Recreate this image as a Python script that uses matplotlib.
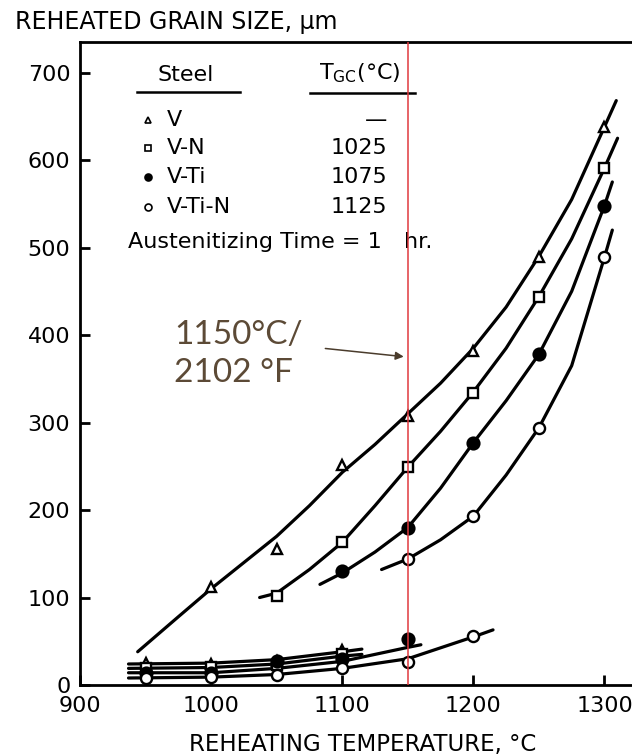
import numpy as np
import matplotlib.pyplot as plt

plt.rcParams['font.family'] = ['DejaVu Sans']

# measured points (upper branch, coarse grains)
t_v = [1000, 1050, 1100, 1150, 1200, 1250, 1300]
g_v = [112, 156, 251, 308, 382, 489, 638]
t_vn = [1050, 1100, 1150, 1200, 1250, 1300]
g_vn = [102, 163, 249, 334, 444, 591]
t_vti = [1100, 1150, 1200, 1250, 1300]
g_vti = [130, 180, 277, 378, 548]
t_vtin = [1150, 1200, 1250, 1300]
g_vtin = [144, 193, 294, 489]

# fine grain points (below coarsening temperature)
lt_v = [950, 1000, 1050, 1100]
lg_v = [25, 24, 27, 40]
lt_vn = [950, 1000, 1050, 1100]
lg_vn = [20, 21, 23, 36]
lt_vti = [950, 1000, 1050, 1100, 1150]
lg_vti = [14, 14, 27, 30, 53]
lt_vtin = [950, 1000, 1050, 1100, 1150, 1200]
lg_vtin = [8, 9, 11, 19, 26, 56]

# hand drawn trend curves
ct_v = [944, 975, 1000, 1025, 1050, 1075, 1100, 1125, 1150, 1175, 1200, 1225, 1250, 1275, 1300, 1309]
cg_v = [38, 78, 110, 140, 170, 205, 243, 275, 310, 345, 385, 432, 490, 555, 638, 668]
ct_vn = [1037, 1050, 1075, 1100, 1125, 1150, 1175, 1200, 1225, 1250, 1275, 1300, 1310]
cg_vn = [100, 105, 132, 163, 205, 249, 290, 335, 385, 444, 510, 591, 625]
ct_vti = [1083, 1100, 1125, 1150, 1175, 1200, 1225, 1250, 1275, 1300, 1306]
cg_vti = [115, 128, 152, 180, 225, 277, 325, 378, 450, 548, 575]
ct_vtin = [1130, 1150, 1175, 1200, 1225, 1250, 1275, 1300, 1306]
cg_vtin = [132, 144, 166, 193, 240, 294, 365, 489, 520]

lct_v = [937, 1000, 1050, 1100, 1115]
lcg_v = [24, 25, 29, 38, 41]
lct_vn = [937, 1000, 1050, 1100, 1115]
lcg_vn = [19, 20, 24, 33, 35]
lct_vti = [937, 1000, 1050, 1100, 1150, 1160]
lcg_vti = [14, 14, 19, 27, 43, 46]
lct_vtin = [937, 1000, 1050, 1100, 1150, 1200, 1215]
lcg_vtin = [8, 9, 12, 19, 30, 55, 63]

fig = plt.figure(figsize=(6.32, 7.56), dpi=100)
ax = fig.add_axes([80/632, 1-685/756, 1-80/632, 643/756])

for ct, cg in [(ct_v, cg_v), (ct_vn, cg_vn), (ct_vti, cg_vti), (ct_vtin, cg_vtin),
               (lct_v, lcg_v), (lct_vn, lcg_vn), (lct_vti, lcg_vti), (lct_vtin, lcg_vtin)]:
    ax.plot(ct, cg, color='black', lw=2.3, solid_capstyle='round', zorder=2)

mk = dict(color='black', ls='none', mew=1.7, zorder=3)
ax.plot(t_v + lt_v, g_v + lg_v, marker='^', ms=7.5, mfc='white', **mk)
ax.plot(t_vn + lt_vn, g_vn + lg_vn, marker='s', ms=6.8, mfc='white', **mk)
ax.plot(t_vti + lt_vti, g_vti + lg_vti, marker='o', ms=8.5, mfc='black', **mk)
ax.plot(t_vtin + lt_vtin, g_vtin + lg_vtin, marker='o', ms=8, mfc='white', **mk)

ax.axvline(1150, color='#e0393e', lw=1.1, zorder=4)

ax.set_xlim(900, 1321)
ax.set_ylim(0, 735)
ax.set_xticks([900, 1000, 1100, 1200, 1300])
ax.set_yticks(range(0, 701, 100))
ax.tick_params(direction='in', length=7, width=2, labelsize=16)
ax.tick_params(axis='x', pad=8)
ax.tick_params(axis='y', pad=7)
ax.spines['right'].set_visible(False)
for s in ['left', 'bottom', 'top']:
    ax.spines[s].set_linewidth(2)

# legend drawn as a table
tr = ax.transAxes
lf = dict(fontsize=16)
ax.text(0.192, 0.949, 'Steel', transform=tr, ha='center', va='center', **lf)
ax.text(0.507, 0.951, r'T$_{\mathregular{GC}}$(°C)', transform=tr, ha='center', va='center', **lf)
ax.plot([0.103, 0.29], [0.922, 0.922], transform=tr, color='black', lw=1.8)
ax.plot([0.417, 0.607], [0.921, 0.921], transform=tr, color='black', lw=1.8)
rows = [('V', '—', '^', 'white'), ('V-N', '1025', 's', 'white'),
        ('V-Ti', '1075', 'o', 'black'), ('V-Ti-N', '1125', 'o', 'white')]
row_y = [0.879, 0.835, 0.790, 0.743]
for (name, tgc, m, fc), y in zip(rows, row_y):
    ax.plot([0.123], [y], transform=tr, marker=m, ms=5, mfc=fc, mec='black', mew=1.2, ls='none')
    ax.text(0.158, y, name, transform=tr, va='center', **lf)
    ax.text(0.556, y, tgc, transform=tr, va='center', ha='right', **lf)
ax.text(0.087, 0.689, 'Austenitizing Time = 1', transform=tr, va='center', **lf)
ax.text(0.587, 0.689, 'hr.', transform=tr, va='center', **lf)

ann = dict(transform=tr, va='center', fontsize=24, color='#5c4a36', family=['Lato', 'DejaVu Sans'])
ax.text(0.17, 0.544, '1150°C/', **ann)
ax.text(0.17, 0.485, '2102 °F', **ann)
ax.annotate('', xy=(1149, 375), xytext=(1085, 385),
            arrowprops=dict(arrowstyle='-|>', color='#4a3c2c', lw=1.1, mutation_scale=12))

fig.text(15/632, 1-22/756, 'REHEATED GRAIN SIZE, µm', va='center', fontsize=17)
fig.text(363/632, 1-744/756, 'REHEATING TEMPERATURE, °C', ha='center', va='center', fontsize=16.5)

fig.savefig('out.png', dpi=100)
